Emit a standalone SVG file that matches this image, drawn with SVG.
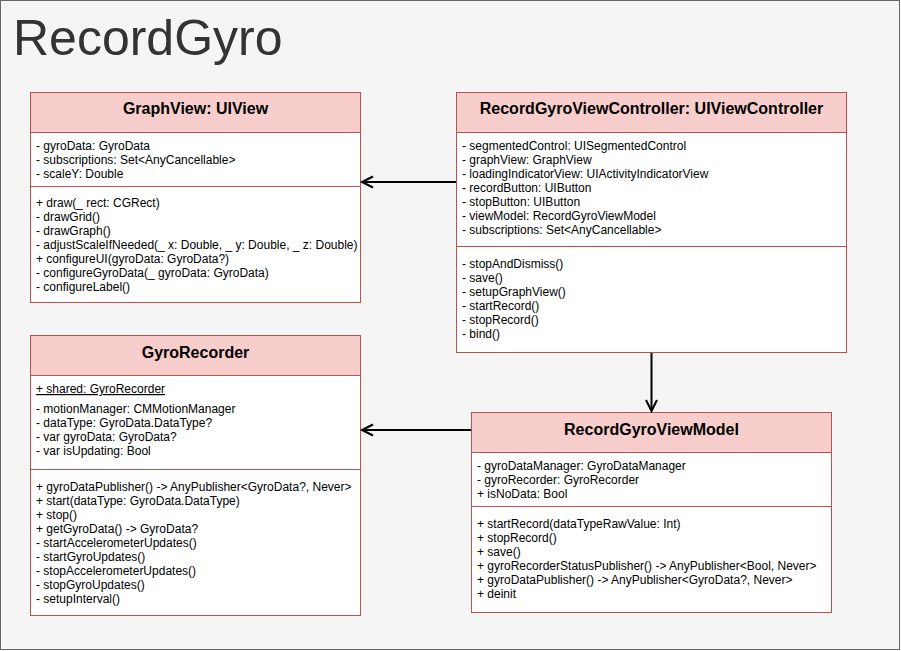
<svg xmlns="http://www.w3.org/2000/svg" width="901" height="651" viewBox="0 0 901 651">
<style>
.frame{fill:#f5f5f5;stroke:#666666;stroke-width:1}
.hdr{fill:#f8cecc;stroke:#b85450;stroke-width:1}
.body{fill:#ffffff;stroke:#b85450;stroke-width:1}
.sep{stroke:#b85450;stroke-width:1}
.ttl{font-family:"Liberation Sans",Arial,Helvetica,sans-serif;font-size:16px;font-weight:bold;fill:#000000;text-anchor:middle}
.txt{font-family:"Liberation Sans",Arial,Helvetica,sans-serif;font-size:12px;fill:#000000}
.big{font-family:"Liberation Sans",Arial,Helvetica,sans-serif;font-size:50px;fill:#333333}
.conn{stroke:#000000;stroke-width:2;fill:none}
</style>
<defs>
<marker id="open" markerUnits="userSpaceOnUse" markerWidth="14" markerHeight="14" viewBox="-13 -7 14 14" refX="0" refY="0" orient="auto" overflow="visible">
<path d="M-11,-5.5 L0,0 L-11,5.5" fill="none" stroke="#000000" stroke-width="2"/>
</marker>
</defs>
<rect class="frame" x="0.5" y="0.5" width="899" height="649"/>
<text class="big" x="13" y="55">RecordGyro</text>

<g id="graphview">
<rect class="body" x="30.5" y="92.5" width="330" height="210"/>
<rect class="hdr" x="30.5" y="92.5" width="330" height="40"/>
<text class="ttl" x="195.5" y="114">GraphView: UIView</text>
<text class="txt" x="36" y="150">- gyroData: GyroData</text>
<text class="txt" x="36" y="164">- subscriptions: Set&lt;AnyCancellable&gt;</text>
<text class="txt" x="36" y="178">- scaleY: Double</text>
<line class="sep" x1="30.5" y1="186.5" x2="360.5" y2="186.5"/>
<text class="txt" x="36" y="207">+ draw(_ rect: CGRect)</text>
<text class="txt" x="36" y="221">- drawGrid()</text>
<text class="txt" x="36" y="235">- drawGraph()</text>
<text class="txt" x="36" y="249">- adjustScaleIfNeeded(_ x: Double, _ y: Double, _ z: Double)</text>
<text class="txt" x="36" y="263">+ configureUI(gyroData: GyroData?)</text>
<text class="txt" x="36" y="277">- configureGyroData(_ gyroData: GyroData)</text>
<text class="txt" x="36" y="291">- configureLabel()</text>
</g>

<g id="recordgyroviewcontroller">
<rect class="body" x="456.5" y="92.5" width="390" height="260"/>
<rect class="hdr" x="456.5" y="92.5" width="390" height="40"/>
<text class="ttl" x="651.5" y="114">RecordGyroViewController: UIViewController</text>
<text class="txt" x="462" y="150">- segmentedControl: UISegmentedControl</text>
<text class="txt" x="462" y="164">- graphView: GraphView</text>
<text class="txt" x="462" y="178">- loadingIndicatorView: UIActivityIndicatorView</text>
<text class="txt" x="462" y="192">- recordButton: UIButton</text>
<text class="txt" x="462" y="206">- stopButton: UIButton</text>
<text class="txt" x="462" y="220">- viewModel: RecordGyroViewModel</text>
<text class="txt" x="462" y="234">- subscriptions: Set&lt;AnyCancellable&gt;</text>
<line class="sep" x1="456.5" y1="246.5" x2="846.5" y2="246.5"/>
<text class="txt" x="462" y="268">- stopAndDismiss()</text>
<text class="txt" x="462" y="282">- save()</text>
<text class="txt" x="462" y="296">- setupGraphView()</text>
<text class="txt" x="462" y="310">- startRecord()</text>
<text class="txt" x="462" y="324">- stopRecord()</text>
<text class="txt" x="462" y="338">- bind()</text>
</g>

<g id="gyrorecorder">
<rect class="body" x="30.5" y="335.5" width="330" height="280"/>
<rect class="hdr" x="30.5" y="335.5" width="330" height="40"/>
<text class="ttl" x="195.5" y="357.5">GyroRecorder</text>
<text class="txt" x="36" y="393" text-decoration="underline">+ shared: GyroRecorder</text>
<text class="txt" x="36" y="413">- motionManager: CMMotionManager</text>
<text class="txt" x="36" y="427">- dataType: GyroData.DataType?</text>
<text class="txt" x="36" y="441">- var gyroData: GyroData?</text>
<text class="txt" x="36" y="455">- var isUpdating: Bool</text>
<line class="sep" x1="30.5" y1="469.5" x2="360.5" y2="469.5"/>
<text class="txt" x="36" y="491">+ gyroDataPublisher() -&gt; AnyPublisher&lt;GyroData?, Never&gt;</text>
<text class="txt" x="36" y="505">+ start(dataType: GyroData.DataType)</text>
<text class="txt" x="36" y="519">+ stop()</text>
<text class="txt" x="36" y="533">+ getGyroData() -&gt; GyroData?</text>
<text class="txt" x="36" y="547">- startAccelerometerUpdates()</text>
<text class="txt" x="36" y="561">- startGyroUpdates()</text>
<text class="txt" x="36" y="575">- stopAccelerometerUpdates()</text>
<text class="txt" x="36" y="589">- stopGyroUpdates()</text>
<text class="txt" x="36" y="603">- setupInterval()</text>
</g>

<g id="recordgyroviewmodel">
<rect class="body" x="471.5" y="412.5" width="360" height="200"/>
<rect class="hdr" x="471.5" y="412.5" width="360" height="40"/>
<text class="ttl" x="651.5" y="435">RecordGyroViewModel</text>
<text class="txt" x="477" y="470">- gyroDataManager: GyroDataManager</text>
<text class="txt" x="477" y="484">- gyroRecorder: GyroRecorder</text>
<text class="txt" x="477" y="498">+ isNoData: Bool</text>
<line class="sep" x1="471.5" y1="506.5" x2="831.5" y2="506.5"/>
<text class="txt" x="477" y="528">+ startRecord(dataTypeRawValue: Int)</text>
<text class="txt" x="477" y="542">+ stopRecord()</text>
<text class="txt" x="477" y="556">+ save()</text>
<text class="txt" x="477" y="570">+ gyroRecorderStatusPublisher() -&gt; AnyPublisher&lt;Bool, Never&gt;</text>
<text class="txt" x="477" y="584">+ gyroDataPublisher() -&gt; AnyPublisher&lt;GyroData?, Never&gt;</text>
<text class="txt" x="477" y="598">+ deinit</text>
</g>

<g id="connectors">
<line class="conn" x1="456" y1="182" x2="362" y2="182" marker-end="url(#open)"/>
<line class="conn" x1="651.5" y1="353" x2="651.5" y2="411" marker-end="url(#open)"/>
<line class="conn" x1="471" y1="430" x2="362" y2="430" marker-end="url(#open)"/>
</g>
</svg>
